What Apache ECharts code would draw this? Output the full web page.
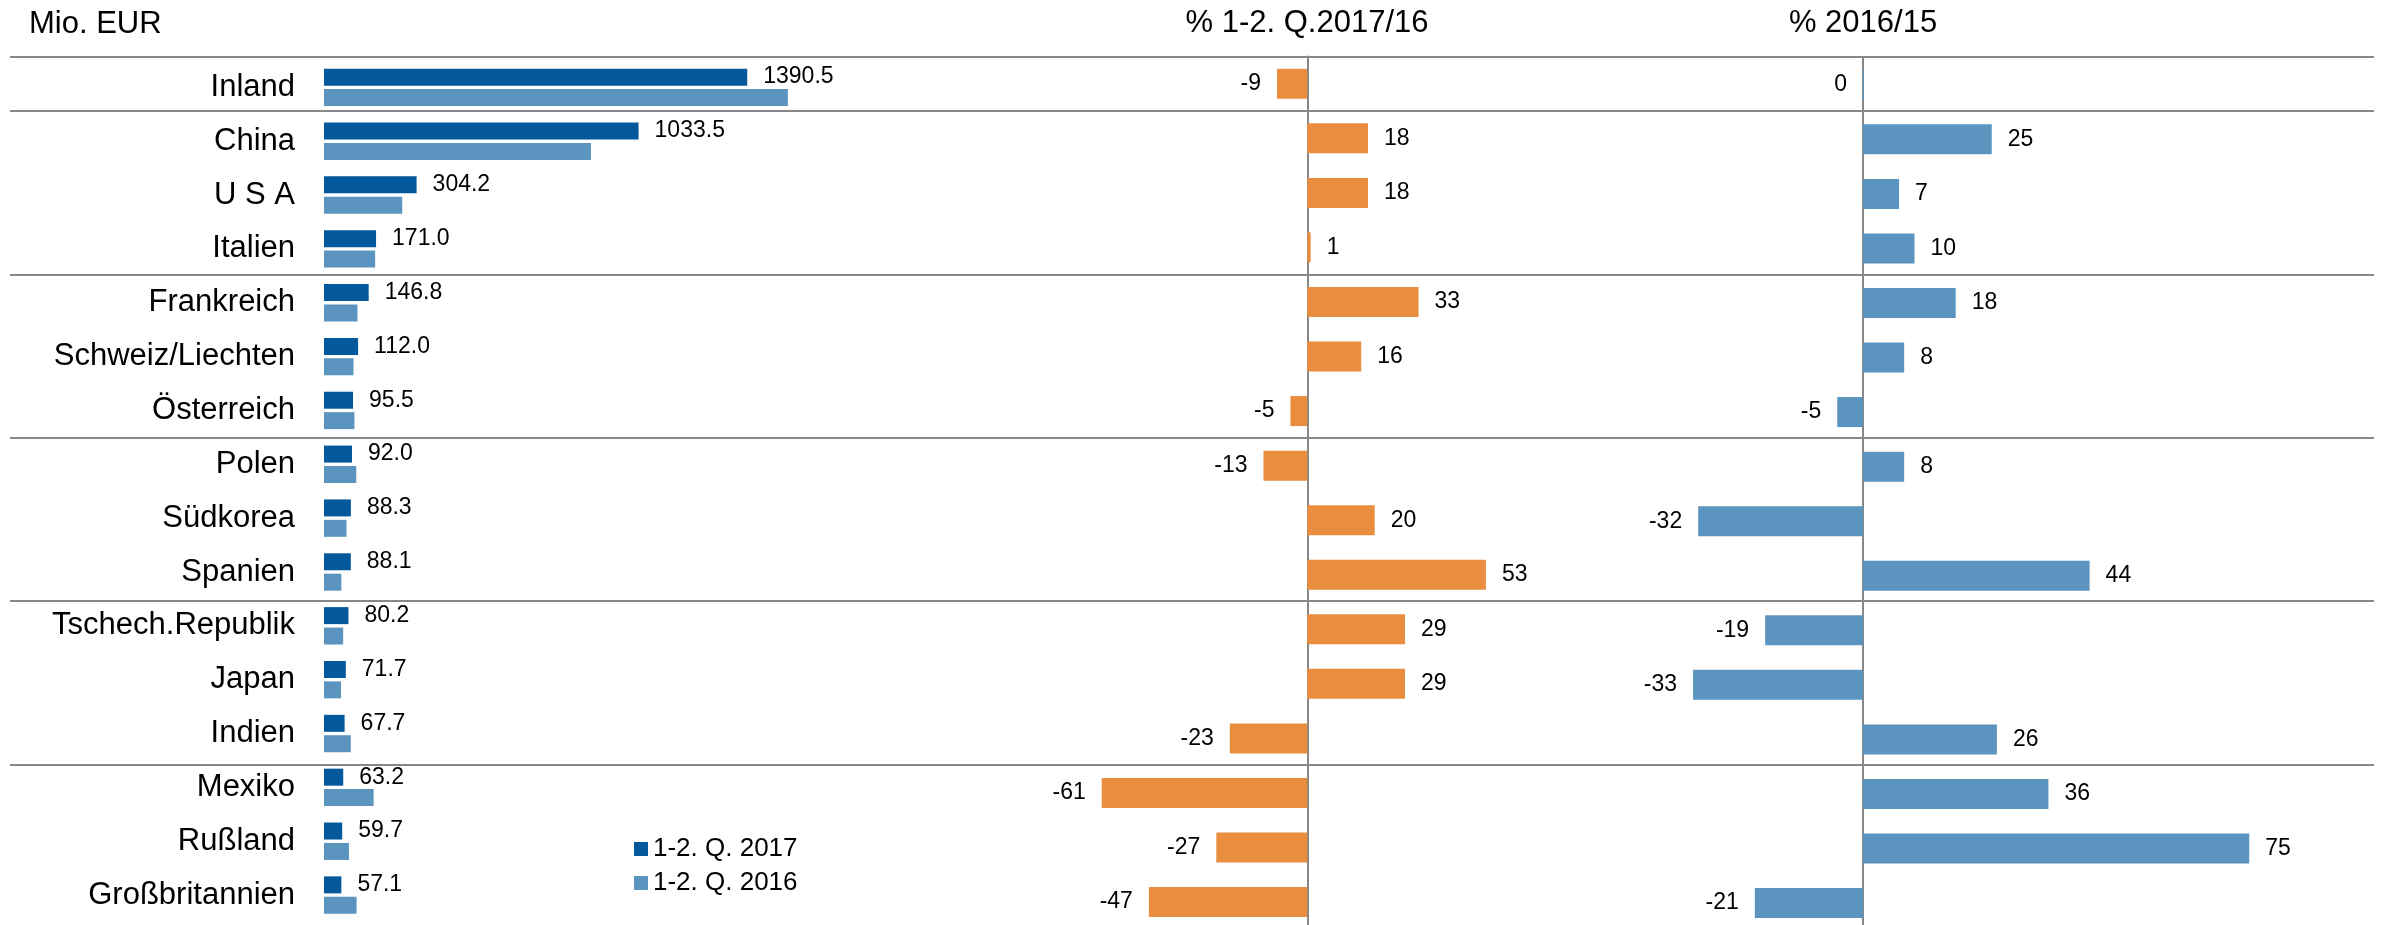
<!DOCTYPE html>
<html>
<head>
<meta charset="utf-8">
<title>Mio. EUR</title>
<script src="https://cdn.jsdelivr.net/npm/echarts@6/dist/echarts.min.js"></script>
<style>
  html, body { margin: 0; padding: 0; background: #fff; }
  #chart { width: 2384px; height: 925px; }
</style>
</head>
<body>
<div id="chart"></div>
<script>
// data
const categories = ['Inland', 'China', 'U S A', 'Italien', 'Frankreich', 'Schweiz/Liechten', 'Österreich',
  'Polen', 'Südkorea', 'Spanien', 'Tschech.Republik', 'Japan', 'Indien', 'Mexiko', 'Rußland', 'Großbritannien'];
const values2017 = [1390.5, 1033.5, 304.2, 171.0, 146.8, 112.0, 95.5, 92.0, 88.3, 88.1, 80.2, 71.7, 67.7, 63.2, 59.7, 57.1];
const values2016 = [1524, 877, 257, 168, 110, 97, 100, 106, 74, 57, 63, 56, 88, 163, 82, 107];
const change1716 = [-9, 18, 18, 1, 33, 16, -5, -13, 20, 53, 29, 29, -23, -61, -27, -47];
const change1615 = [0, 25, 7, 10, 18, 8, -5, 8, -32, 44, -19, -33, 26, 36, 75, -21];
// first row of each group (separator line above it)
const groupStarts = [0, 1, 4, 7, 10, 13];

const fontFamily = 'Liberation Sans, Arial, sans-serif';
const grey = '#878787';
const darkBlue = '#03599b';
const lightBlue = '#5b95bf';
const orange = '#e88e3e';

const headStyle = { fontSize: 31, fontWeight: 'normal', color: '#000', fontFamily: fontFamily };
const valueLabel = { show: true, distance: 16, fontSize: 23, color: '#000', fontFamily: fontFamily };

// positive values labelled right of the bar, negative (and zero) left
function sided(arr) {
  return arr.map(function (v) {
    return { value: v, label: { position: v > 0 ? 'right' : 'left' } };
  });
}

function hiddenCat(gridIndex, axisLine) {
  return {
    gridIndex: gridIndex,
    type: 'category',
    data: categories,
    inverse: true,
    axisTick: { show: false },
    axisLabel: { show: false },
    axisLine: axisLine ? { show: true, onZero: true, lineStyle: { color: grey, width: 2 } } : { show: false }
  };
}

const chart = echarts.init(document.getElementById('chart'));
chart.setOption({
  animation: false,
  backgroundColor: '#fff',
  textStyle: { fontFamily: fontFamily },
  title: [
    { text: 'Mio. EUR', left: 29, top: 9, padding: 0, textStyle: headStyle },
    { text: '% 1-2. Q.2017/16', left: 1307, top: 8, padding: 0, textAlign: 'center', textStyle: headStyle },
    { text: '% 2016/15', left: 1863, top: 8, padding: 0, textAlign: 'center', textStyle: headStyle }
  ],
  legend: {
    data: ['1-2. Q. 2017', '1-2. Q. 2016'],
    orient: 'vertical',
    left: 634,
    top: 836,
    padding: 0,
    itemGap: 8,
    itemWidth: 14,
    itemHeight: 14,
    icon: 'rect',
    textStyle: { fontSize: 26, color: '#000', fontFamily: fontFamily }
  },
  grid: [
    { left: 324, top: 60.4, width: 487, height: 861.6, outerBoundsMode: 'none' },
    { left: 1037.7, top: 56.5, width: 539.2, height: 872.8, outerBoundsMode: 'none' },
    { left: 1605.5, top: 57.5, width: 772.5, height: 872.8, outerBoundsMode: 'none' },
    // separator lines: one spare row below so the closing boundary falls off the page
    { left: 10, right: 10, top: 56.5, height: 925.6, outerBoundsMode: 'none' }
  ],
  xAxis: [
    { gridIndex: 0, type: 'value', min: 0, max: 1600, show: false },
    { gridIndex: 1, type: 'value', min: -80, max: 80, show: false },
    { gridIndex: 2, type: 'value', min: -50, max: 100, show: false },
    { gridIndex: 3, type: 'value', min: 0, max: 1, show: false }
  ],
  yAxis: [
    {
      gridIndex: 0,
      type: 'category',
      data: categories,
      inverse: true,
      axisLine: { show: false },
      axisTick: { show: false },
      axisLabel: { interval: 0, margin: 29, fontSize: 31, color: '#000', fontFamily: fontFamily }
    },
    hiddenCat(1, true),
    hiddenCat(2, true),
    Object.assign(hiddenCat(3, false), {
      data: categories.concat(['']),
      splitLine: {
        show: true,
        interval: function (index) { return groupStarts.indexOf(index) >= 0; },
        lineStyle: { color: grey, width: 2 }
      }
    })
  ],
  series: [
    {
      name: '1-2. Q. 2017',
      type: 'bar',
      xAxisIndex: 0,
      yAxisIndex: 0,
      barWidth: 17,
      barGap: '20%',
      itemStyle: { color: darkBlue },
      label: Object.assign({ position: 'right', formatter: function (p) { return p.value.toFixed(1); } }, valueLabel),
      data: values2017
    },
    {
      name: '1-2. Q. 2016',
      type: 'bar',
      xAxisIndex: 0,
      yAxisIndex: 0,
      barWidth: 17,
      itemStyle: { color: lightBlue },
      data: values2016
    },
    {
      name: '% 1-2. Q.2017/16',
      type: 'bar',
      xAxisIndex: 1,
      yAxisIndex: 1,
      barWidth: 30,
      itemStyle: { color: orange },
      label: valueLabel,
      data: sided(change1716)
    },
    {
      name: '% 2016/15',
      type: 'bar',
      xAxisIndex: 2,
      yAxisIndex: 2,
      barWidth: 30,
      barMinHeight: 1,
      itemStyle: { color: lightBlue },
      label: valueLabel,
      data: sided(change1615)
    }
  ]
});
</script>
</body>
</html>
